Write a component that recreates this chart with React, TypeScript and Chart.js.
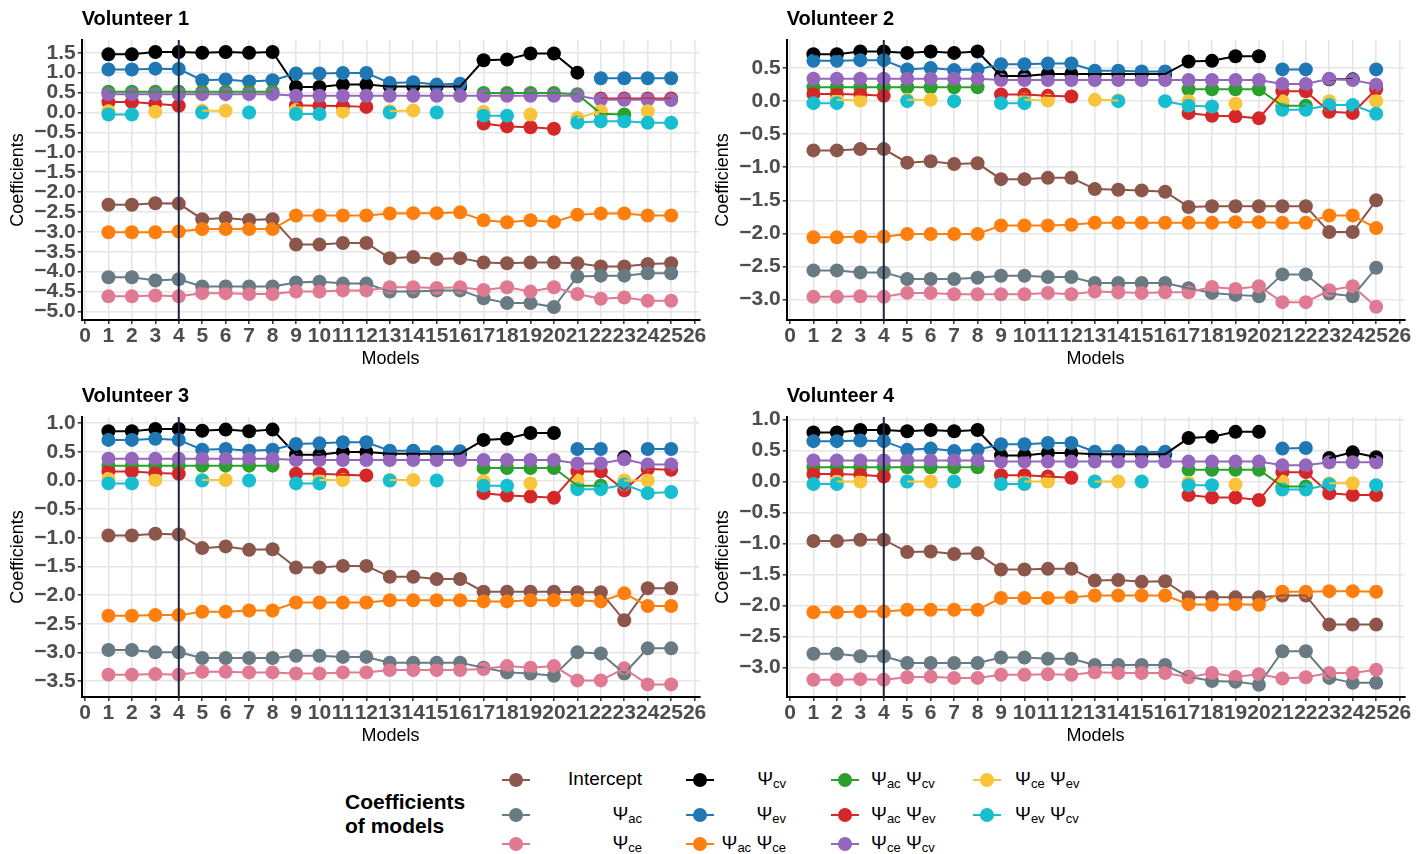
import React, { useEffect, useRef } from 'react';
import { Chart, registerables } from 'chart.js';

Chart.register(...registerables);

const _ = null;
const FONT = "'Liberation Sans', Arial, Helvetica, sans-serif";

const MODELS = [1, 2, 3, 4, 5, 6, 7, 8, 9, 10, 11, 12, 13, 14, 15, 16, 17, 18, 19, 20, 21, 22, 23, 24, 25];
const X_TICKS = [0, 1, 2, 3, 4, 5, 6, 7, 8, 9, 10, 11, 12, 13, 14, 15, 16, 17, 18, 19, 20, 21, 22, 23, 24, 25, 26];
const REF_MODEL = 4;

const SERIES_NAMES = ['Intercept', 'ψac', 'ψce', 'ψcv', 'ψev', 'ψac ψce', 'ψac ψcv', 'ψac ψev', 'ψce ψcv', 'ψce ψev', 'ψev ψcv'];
const SERIES_SUBS: string[][] = [[], ['ac'], ['ce'], ['cv'], ['ev'], ['ac', 'ce'], ['ac', 'cv'], ['ac', 'ev'], ['ce', 'cv'], ['ce', 'ev'], ['ev', 'cv']];
const SERIES_COLORS = ['#8c564b', '#687a82', '#e07a93', '#000000', '#1f77b4', '#ff7f0e', '#2ca02c', '#d62728', '#9467bd', '#f8c53a', '#17becf'];

const Y1_TICKS = [-5, -4.5, -4, -3.5, -3, -2.5, -2, -1.5, -1, -0.5, 0, 0.5, 1, 1.5];
const Y2_TICKS = [-3, -2.5, -2, -1.5, -1, -0.5, 0, 0.5];
const Y3_TICKS = [-3.5, -3, -2.5, -2, -1.5, -1, -0.5, 0, 0.5, 1];
const Y4_TICKS = [-3, -2.5, -2, -1.5, -1, -0.5, 0, 0.5, 1];

// Volunteer 1
const V1_INTERCEPT = [-2.32, -2.32, -2.28, -2.29, -2.68, -2.65, -2.70, -2.68, -3.32, -3.32, -3.28, -3.28, -3.66, -3.63, -3.68, -3.66, -3.77, -3.79, -3.77, -3.77, -3.79, -3.87, -3.87, -3.81, -3.79];
const V1_AC = [-4.14, -4.14, -4.22, -4.19, -4.37, -4.37, -4.37, -4.37, -4.27, -4.25, -4.30, -4.30, -4.50, -4.50, -4.47, -4.47, -4.67, -4.79, -4.79, -4.89, -4.12, -4.10, -4.10, -4.04, -4.04];
const V1_CE = [-4.62, -4.62, -4.60, -4.62, -4.54, -4.54, -4.56, -4.56, -4.50, -4.50, -4.47, -4.47, -4.39, -4.39, -4.41, -4.39, -4.46, -4.39, -4.50, -4.39, -4.56, -4.68, -4.65, -4.73, -4.73];
const V1_CV = [1.46, 1.46, 1.52, 1.52, 1.50, 1.52, 1.50, 1.52, 0.64, 0.64, 0.70, 0.70, 0.65, 0.65, 0.65, 0.65, 1.31, 1.33, 1.48, 1.48, 1.00, _, _, _, _];
const V1_EV = [1.08, 1.08, 1.10, 1.09, 0.81, 0.83, 0.78, 0.81, 0.98, 0.98, 0.99, 0.99, 0.74, 0.76, 0.70, 0.72, _, _, _, _, _, 0.86, 0.86, 0.86, 0.86];
const V1_AC_CE = [-3.01, -3.01, -3.01, -2.99, -2.93, -2.93, -2.93, -2.93, -2.59, -2.59, -2.59, -2.59, -2.54, -2.53, -2.53, -2.51, -2.71, -2.76, -2.71, -2.75, -2.57, -2.54, -2.54, -2.59, -2.59];
const V1_AC_CV = [0.52, 0.52, 0.52, 0.52, 0.52, 0.52, 0.52, 0.52, _, _, _, _, _, _, _, _, 0.49, 0.49, 0.49, 0.49, 0.46, -0.03, -0.05, _, _];
const V1_AC_EV = [0.26, 0.26, 0.22, 0.17, _, _, _, _, 0.18, 0.17, 0.16, 0.14, _, _, _, _, -0.28, -0.35, -0.37, -0.41, _, 0.35, 0.35, 0.35, 0.35];
const V1_CE_CV = [0.46, 0.46, 0.46, 0.46, 0.46, 0.46, 0.46, 0.46, 0.42, 0.42, 0.42, 0.42, 0.42, 0.42, 0.42, 0.42, 0.42, 0.42, 0.42, 0.42, 0.42, 0.32, 0.32, 0.32, 0.31];
const V1_CE_EV = [0.03, _, 0.02, _, 0.04, 0.04, _, _, 0.06, _, 0.02, _, 0.03, 0.05, _, _, 0.01, _, -0.05, _, -0.14, 0.03, _, 0.03, _];
const V1_EV_CV = [-0.05, -0.05, _, _, 0.0, _, 0.0, _, -0.04, -0.04, _, _, 0.0, _, 0.0, _, -0.08, -0.08, _, _, -0.25, -0.22, -0.22, -0.26, -0.26];

// Volunteer 2
const V2_INTERCEPT = [-0.745, -0.745, -0.725, -0.725, -0.93, -0.91, -0.95, -0.94, -1.18, -1.18, -1.16, -1.16, -1.33, -1.34, -1.35, -1.37, -1.60, -1.59, -1.59, -1.59, -1.59, -1.59, -1.98, -1.98, -1.50];
const V2_AC = [-2.56, -2.56, -2.59, -2.59, -2.69, -2.69, -2.69, -2.67, -2.64, -2.64, -2.66, -2.66, -2.75, -2.75, -2.75, -2.75, -2.83, -2.90, -2.93, -2.95, -2.62, -2.62, -2.91, -2.95, -2.52];
const V2_CE = [-2.96, -2.96, -2.95, -2.96, -2.90, -2.90, -2.92, -2.92, -2.92, -2.92, -2.90, -2.92, -2.88, -2.89, -2.90, -2.89, -2.89, -2.81, -2.84, -2.80, -3.04, -3.04, -2.86, -2.80, -3.11];
const V2_CV = [0.71, 0.71, 0.75, 0.75, 0.73, 0.75, 0.73, 0.75, 0.38, 0.38, 0.41, 0.41, 0.41, 0.41, 0.41, 0.41, 0.60, 0.61, 0.68, 0.68, _, _, 0.33, 0.33, _];
const V2_EV = [0.61, 0.61, 0.62, 0.62, 0.48, 0.50, 0.47, 0.48, 0.56, 0.56, 0.57, 0.57, 0.46, 0.46, 0.45, 0.45, _, _, _, _, 0.48, 0.48, _, _, 0.48];
const V2_AC_CE = [-2.06, -2.06, -2.05, -2.05, -2.01, -2.01, -2.01, -2.01, -1.88, -1.88, -1.88, -1.87, -1.84, -1.84, -1.84, -1.84, -1.84, -1.84, -1.83, -1.83, -1.84, -1.84, -1.73, -1.73, -1.92];
const V2_AC_CV = [0.21, 0.21, 0.21, 0.21, 0.21, 0.21, 0.21, 0.21, _, _, _, _, _, _, _, _, 0.18, 0.18, 0.18, 0.18, -0.07, -0.07, _, _, _];
const V2_AC_EV = [0.11, 0.11, 0.10, 0.08, _, _, _, _, 0.10, 0.10, 0.08, 0.07, _, _, _, _, -0.18, -0.22, -0.23, -0.26, 0.15, 0.15, -0.16, -0.18, 0.18];
const V2_CE_CV = [0.34, 0.34, 0.34, 0.34, 0.34, 0.34, 0.34, 0.34, 0.32, 0.32, 0.32, 0.32, 0.32, 0.32, 0.32, 0.32, 0.32, 0.32, 0.32, 0.32, 0.26, 0.26, 0.34, 0.32, 0.25];
const V2_CE_EV = [_, 0.02, 0.01, _, 0.02, 0.02, _, _, _, 0.02, 0.01, _, 0.02, 0.01, _, _, 0.0, _, -0.04, _, 0.0, _, 0.0, _, 0.0];
const V2_EV_CV = [-0.03, -0.03, _, _, 0.0, _, 0.0, _, -0.03, -0.03, _, _, _, 0.0, _, 0.0, -0.07, -0.08, _, _, -0.13, -0.13, -0.06, -0.06, -0.19];

// Volunteer 3
const V3_INTERCEPT = [-0.96, -0.96, -0.93, -0.94, -1.18, -1.15, -1.21, -1.20, -1.52, -1.52, -1.49, -1.49, -1.68, -1.68, -1.72, -1.72, -1.94, -1.94, -1.94, -1.94, -1.95, -1.95, -2.44, -1.88, -1.88];
const V3_AC = [-2.96, -2.96, -3.00, -3.00, -3.10, -3.10, -3.10, -3.10, -3.06, -3.06, -3.08, -3.08, -3.18, -3.18, -3.18, -3.18, -3.27, -3.35, -3.37, -3.41, -3.00, -3.02, -3.37, -2.93, -2.93];
const V3_CE = [-3.39, -3.39, -3.38, -3.39, -3.34, -3.34, -3.35, -3.35, -3.37, -3.37, -3.35, -3.35, -3.31, -3.31, -3.31, -3.31, -3.29, -3.24, -3.27, -3.24, -3.49, -3.49, -3.28, -3.56, -3.56];
const V3_CV = [0.86, 0.86, 0.90, 0.90, 0.87, 0.89, 0.86, 0.89, 0.45, 0.45, 0.50, 0.50, 0.47, 0.47, 0.47, 0.47, 0.71, 0.73, 0.83, 0.83, _, _, 0.41, _, _];
const V3_EV = [0.71, 0.71, 0.73, 0.71, 0.54, 0.55, 0.52, 0.54, 0.64, 0.65, 0.67, 0.67, 0.52, 0.52, 0.50, 0.51, _, _, _, _, 0.55, 0.55, _, 0.55, 0.55];
const V3_AC_CE = [-2.36, -2.36, -2.35, -2.35, -2.29, -2.29, -2.27, -2.27, -2.13, -2.13, -2.13, -2.13, -2.09, -2.09, -2.09, -2.09, -2.11, -2.11, -2.09, -2.09, -2.09, -2.11, -1.97, -2.19, -2.19];
const V3_AC_CV = [0.26, 0.26, 0.26, 0.26, 0.26, 0.26, 0.26, 0.26, _, _, _, _, _, _, _, _, 0.22, 0.22, 0.22, 0.22, -0.09, -0.09, _, _, _];
const V3_AC_EV = [0.16, 0.16, 0.13, 0.12, _, _, _, _, 0.12, 0.12, 0.10, 0.09, _, _, _, _, -0.22, -0.26, -0.28, -0.30, 0.16, 0.16, -0.17, 0.20, 0.19];
const V3_CE_CV = [0.38, 0.38, 0.38, 0.38, 0.38, 0.38, 0.38, 0.38, 0.36, 0.36, 0.36, 0.36, 0.36, 0.36, 0.36, 0.36, 0.36, 0.36, 0.36, 0.36, 0.30, 0.30, 0.37, 0.28, 0.28];
const V3_CE_EV = [0.03, _, 0.01, _, 0.01, 0.01, _, _, _, 0.01, 0.01, _, 0.01, 0.01, _, _, -0.01, _, -0.05, _, 0.0, _, 0.0, 0.0, _];
const V3_EV_CV = [-0.05, -0.05, _, _, 0.0, _, 0.0, _, -0.05, -0.05, _, _, 0.0, _, 0.0, _, -0.09, -0.09, _, _, -0.15, -0.15, -0.07, -0.22, -0.20];

// Volunteer 4
const V4_INTERCEPT = [-0.96, -0.96, -0.94, -0.94, -1.14, -1.13, -1.17, -1.16, -1.42, -1.42, -1.41, -1.41, -1.60, -1.59, -1.62, -1.61, -1.87, -1.87, -1.87, -1.87, -1.84, -1.84, -2.31, -2.31, -2.31];
const V4_AC = [-2.78, -2.78, -2.82, -2.82, -2.93, -2.93, -2.93, -2.93, -2.84, -2.84, -2.86, -2.86, -2.96, -2.96, -2.96, -2.96, -3.15, -3.22, -3.23, -3.28, -2.74, -2.74, -3.17, -3.25, -3.25];
const V4_CE = [-3.20, -3.20, -3.19, -3.20, -3.16, -3.15, -3.17, -3.17, -3.12, -3.12, -3.11, -3.12, -3.08, -3.09, -3.09, -3.09, -3.16, -3.09, -3.15, -3.11, -3.18, -3.16, -3.09, -3.09, -3.04];
const V4_CV = [0.79, 0.79, 0.83, 0.83, 0.81, 0.83, 0.81, 0.83, 0.42, 0.42, 0.46, 0.46, 0.44, 0.44, 0.44, 0.44, 0.70, 0.72, 0.80, 0.80, _, _, 0.38, 0.47, 0.39];
const V4_EV = [0.65, 0.65, 0.66, 0.65, 0.51, 0.53, 0.49, 0.51, 0.60, 0.60, 0.62, 0.62, 0.48, 0.49, 0.47, 0.48, _, _, _, _, 0.53, 0.54, _, _, _];
const V4_AC_CE = [-2.11, -2.11, -2.10, -2.10, -2.07, -2.07, -2.07, -2.07, -1.88, -1.88, -1.88, -1.87, -1.84, -1.84, -1.84, -1.84, -1.98, -1.99, -1.98, -1.99, -1.78, -1.78, -1.77, -1.77, -1.78];
const V4_AC_CV = [0.23, 0.23, 0.23, 0.23, 0.23, 0.23, 0.23, 0.23, _, _, _, _, _, _, _, _, 0.19, 0.19, 0.19, 0.19, -0.08, -0.08, _, _, _];
const V4_AC_EV = [0.12, 0.12, 0.11, 0.08, _, _, _, _, 0.10, 0.10, 0.08, 0.06, _, _, _, _, -0.22, -0.26, -0.26, -0.30, 0.15, 0.15, -0.19, -0.22, -0.22];
const V4_CE_CV = [0.34, 0.34, 0.34, 0.34, 0.34, 0.34, 0.34, 0.34, 0.32, 0.32, 0.32, 0.32, 0.32, 0.32, 0.32, 0.32, 0.32, 0.32, 0.32, 0.32, 0.26, 0.26, 0.31, 0.31, 0.31];
const V4_CE_EV = [_, 0.0, 0.0, _, 0.0, 0.0, _, _, _, 0.0, 0.0, _, 0.0, 0.0, _, _, -0.02, _, -0.05, _, 0.0, _, -0.03, -0.03, _];
const V4_EV_CV = [-0.04, -0.04, _, _, 0.0, _, 0.0, _, -0.04, -0.04, _, _, 0.0, _, 0.0, _, -0.06, -0.06, _, _, -0.13, -0.13, -0.05, _, -0.06];

type PanelDef = { title: string; series: (number | null)[][]; yTicks: number[]; yMin: number; yMax: number };

const PANELS: PanelDef[] = [
  { title: 'Volunteer 1', series: [V1_INTERCEPT, V1_AC, V1_CE, V1_CV, V1_EV, V1_AC_CE, V1_AC_CV, V1_AC_EV, V1_CE_CV, V1_CE_EV, V1_EV_CV], yTicks: Y1_TICKS, yMin: -5.214, yMax: 1.82 },
  { title: 'Volunteer 2', series: [V2_INTERCEPT, V2_AC, V2_CE, V2_CV, V2_EV, V2_AC_CE, V2_AC_CV, V2_AC_EV, V2_CE_CV, V2_CE_EV, V2_EV_CV], yTicks: Y2_TICKS, yMin: -3.31, yMax: 0.925 },
  { title: 'Volunteer 3', series: [V3_INTERCEPT, V3_AC, V3_CE, V3_CV, V3_EV, V3_AC_CE, V3_AC_CV, V3_AC_EV, V3_CE_CV, V3_CE_EV, V3_EV_CV], yTicks: Y3_TICKS, yMin: -3.78, yMax: 1.11 },
  { title: 'Volunteer 4', series: [V4_INTERCEPT, V4_AC, V4_CE, V4_CV, V4_EV, V4_AC_CE, V4_AC_CV, V4_AC_EV, V4_CE_CV, V4_CE_EV, V4_EV_CV], yTicks: Y4_TICKS, yMin: -3.478, yMax: 1.04 },
];

const PANEL_POS = [
  { left: 0, top: 0 },
  { left: 705, top: 0 },
  { left: 0, top: 376.5 },
  { left: 705, top: 376.5 },
];

const CANVAS_W = 712;
const CANVAS_H = 375;

function fmtY(v: number) {
  const s = Math.abs(v).toFixed(1);
  return v < -1e-9 ? '\u2212' + s : s;
}

function buildConfig(p: PanelDef): any {
  const datasets: any[] = [];
  SERIES_NAMES.forEach((name, i) => {
    const vals = p.series[i];
    const data = MODELS.map((m, j) => ({ x: m, y: vals[j] }));
    const c = SERIES_COLORS[i];
    datasets.push({
      label: name,
      data,
      showLine: false,
      pointRadius: 7,
      pointHoverRadius: 7,
      pointBorderWidth: 0,
      pointBackgroundColor: c,
      borderColor: c,
      backgroundColor: c,
      order: 1000 - i,
    });
    datasets.push({
      label: name + ' line',
      data,
      pointRadius: 0,
      pointHoverRadius: 0,
      borderWidth: 2,
      borderColor: c,
      backgroundColor: c,
      spanGaps: false,
      tension: 0,
      fill: false,
      order: 500 - i,
    });
  });
  datasets.push({
    label: 'reference',
    data: [{ x: REF_MODEL, y: p.yMin }, { x: REF_MODEL, y: p.yMax }],
    pointRadius: 0,
    pointHoverRadius: 0,
    borderWidth: 2,
    borderColor: '#1b2845',
    order: 0,
  });

  const tickFont = { family: FONT, size: 21, weight: 'bold' as const };
  const grid = { color: '#e6e6e6', lineWidth: 1.6, drawTicks: true, tickLength: 4, tickColor: '#333333', tickWidth: 1.5 };
  return {
    type: 'line',
    data: { datasets },
    options: {
      animation: false,
      responsive: false,
      maintainAspectRatio: false,
      events: [],
      layout: { padding: { left: 0, right: 12.7, top: 0, bottom: 0 } },
      plugins: {
        legend: { display: false },
        tooltip: { enabled: false },
        title: {
          display: true,
          text: p.title,
          align: 'start',
          fullSize: false,
          color: '#000',
          font: { family: FONT, size: 20, weight: 'bold' },
          padding: { top: 7, bottom: 9 },
        },
      },
      scales: {
        x: {
          type: 'linear',
          min: -0.14,
          max: 26.2,
          afterBuildTicks: (s: any) => { s.ticks = X_TICKS.map((v) => ({ value: v })); },
          afterFit: (s: any) => { s.height = 55; },
          ticks: { autoSkip: false, maxRotation: 0, minRotation: 0, padding: 0, color: '#4d4d4d', font: tickFont, callback: (v: any) => String(v) },
          grid,
          border: { display: true, color: '#000', width: 2 },
          title: { display: true, text: 'Models', color: '#000', font: { family: FONT, size: 18 }, padding: { top: 0, bottom: 5 } },
        },
        y: {
          type: 'linear',
          min: p.yMin,
          max: p.yMax,
          afterBuildTicks: (s: any) => { s.ticks = p.yTicks.map((v) => ({ value: v })); },
          afterFit: (s: any) => { s.width = 81.7; },
          ticks: { autoSkip: false, padding: 2, color: '#4d4d4d', font: tickFont, callback: (v: any) => fmtY(Number(v)) },
          grid,
          border: { display: true, color: '#000', width: 2 },
          title: { display: true, text: 'Coefficients', color: '#000', font: { family: FONT, size: 18 }, padding: { top: 7, bottom: 0 } },
        },
      },
    },
  };
}

function Panel({ def, left, top }: { def: PanelDef; left: number; top: number }) {
  const ref = useRef<HTMLCanvasElement | null>(null);
  useEffect(() => {
    if (!ref.current) return;
    const chart = new Chart(ref.current, buildConfig(def));
    return () => chart.destroy();
  }, [def]);
  return (
    <canvas
      ref={ref}
      width={CANVAS_W}
      height={CANVAS_H}
      style={{ position: 'absolute', left, top, width: CANVAS_W, height: CANVAS_H }}
    />
  );
}

const LEGEND_KEY_X = [516, 700, 845, 987];
const LEGEND_LABEL_ANCHOR = [642, 786, 871, 1015];
const LEGEND_LABEL_RIGHT = [true, true, false, false];
const LEGEND_ROW_Y = [780, 815, 844];

function SeriesLabel({ subs, name }: { subs: string[]; name: string }) {
  if (subs.length === 0) return <span>{name}</span>;
  return (
    <span>
      {subs.map((s, k) => (
        <span key={k}>
          {k > 0 ? ' ' : ''}
          Ψ<span style={{ fontSize: 13, position: 'relative', top: 3 }}>{s}</span>
        </span>
      ))}
    </span>
  );
}

function Legend() {
  return (
    <>
      <div style={{ position: 'absolute', left: 345, top: 790, fontFamily: FONT, fontSize: 21, fontWeight: 'bold', lineHeight: '24px', color: '#000', whiteSpace: 'nowrap' }}>
        Coefficients<br />of models
      </div>
      {SERIES_NAMES.map((name, i) => {
        const col = Math.floor(i / 3);
        const row = i % 3;
        const kx = LEGEND_KEY_X[col];
        const ry = LEGEND_ROW_Y[row];
        const c = SERIES_COLORS[i];
        const anchor = LEGEND_LABEL_ANCHOR[col];
        const pos: any = LEGEND_LABEL_RIGHT[col] ? { right: 1428 - anchor } : { left: anchor };
        return (
          <React.Fragment key={name}>
            <div style={{ position: 'absolute', left: kx - 14, top: ry - 1.25, width: 28, height: 2.5, background: c }} />
            <div style={{ position: 'absolute', left: kx - 7, top: ry - 7, width: 14, height: 14, borderRadius: '50%', background: c }} />
            <div style={{ position: 'absolute', ...pos, top: ry - 12, height: 22, lineHeight: '22px', fontFamily: FONT, fontSize: 19, color: '#000', whiteSpace: 'nowrap' }}>
              <SeriesLabel subs={SERIES_SUBS[i]} name={name} />
            </div>
          </React.Fragment>
        );
      })}
    </>
  );
}

export default function App() {
  return (
    <div style={{ position: 'fixed', left: 0, top: 0, width: 1428, height: 854, background: '#ffffff', overflow: 'hidden' }}>
      {PANELS.map((def, i) => (
        <Panel key={def.title} def={def} left={PANEL_POS[i].left} top={PANEL_POS[i].top} />
      ))}
      <Legend />
    </div>
  );
}
